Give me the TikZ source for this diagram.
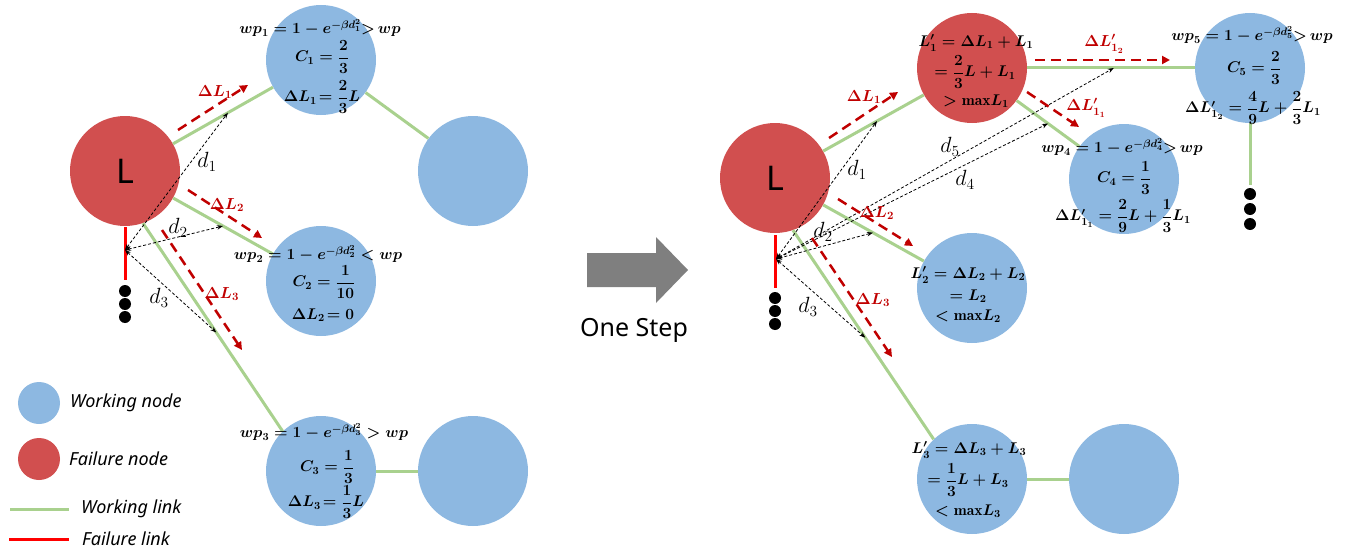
\RequirePackage{fix-cm}
\documentclass[tikz,border=0pt]{standalone}
\usepackage{amsmath}
\usepackage{fontspec}
\setsansfont{Noto Sans}
\usetikzlibrary{arrows.meta,calc}

\definecolor{nodeblue}{HTML}{8DB8E1}
\definecolor{nodered}{HTML}{D14F4F}
\definecolor{linkgreen}{HTML}{A9D18E}
\definecolor{flowred}{HTML}{C00000}
\definecolor{faillink}{HTML}{FF0000}
\definecolor{stepgray}{HTML}{7F7F7F}

\tikzset{
  work/.style={circle, fill=nodeblue, minimum size=110pt, inner sep=0pt},
  fail/.style={circle, fill=nodered, minimum size=110pt, inner sep=0pt,
    font=\sffamily\fontsize{34}{40}\selectfont},
  link/.style={draw=linkgreen, line width=3pt},
  brokenlink/.style={draw=faillink, line width=3pt},
  flow/.style={draw=flowred, line width=2.5pt, dash pattern=on 10pt off 6pt,
    -{Triangle[length=8pt,width=8pt]}},
  dist/.style={draw=black, line width=0.8pt, dash pattern=on 3pt off 2pt,
    {Stealth[length=6pt,width=4.5pt]}-{Stealth[length=6pt,width=4.5pt]}},
  eq/.style={inner sep=0pt, font=\fontsize{15.5}{18}\selectfont\boldmath},
  flowlab/.style={inner sep=0pt, text=flowred, font=\fontsize{16}{18}\selectfont\boldmath},
  dlab/.style={inner sep=0pt, font=\fontsize{22}{26}\selectfont},
  dot/.style={circle, fill=black, minimum size=12pt, inner sep=0pt},
  legendtext/.style={anchor=west, inner sep=0pt,
    font=\sffamily\itshape\fontsize{18}{21}\selectfont},
}

\begin{document}
\begin{tikzpicture}[x=1pt, y=-1pt]
\useasboundingbox (0,0) rectangle (1355,551);

% ---------------- before the step ----------------
\node[fail] (L)   at (125,171) {L};
\node[work] (n1)  at (321,60)  {};
\node[work] (n1r) at (473,171) {};
\node[work] (n2)  at (321,281) {};
\node[work] (n3)  at (321,471) {};
\node[work] (n3r) at (473,471) {};

\draw[link] (L) -- (n1);
\draw[link] (n1) -- (n1r);
\draw[link] (L) -- (n2);
\draw[link] (L.289) -- (n3.134);
\draw[link] (n3) -- (n3r);

% failed link and the chain below it
\coordinate (fa) at (125,227);
\coordinate (fb) at (125,280);
\draw[brokenlink] (fa) -- (fb);
\node[dot] (da1) at (125,291) {};
\node[dot] (da2) at (125,304) {};
\node[dot] (da3) at (125,317) {};

% distances
\coordinate (oa) at (125,250);
\draw[dist] (oa) -- ($(L)!0.525!(n1)$);
\draw[dist] (oa) -- ($(L)!0.5!(n2)$);
\draw[dist] (oa) -- ($(L.289)!0.525!(n3.134)$);
\node[dlab] (ld1) at (207,162) {$d_1$};
\node[dlab] (ld2) at (178,228) {$d_2$};
\node[dlab] (ld3) at (159,298) {$d_3$};

% load transfer
\coordinate (fa1s) at (178,130); \coordinate (fa1e) at (248,85);
\coordinate (fa2s) at (188,190); \coordinate (fa2e) at (262,238);
\coordinate (fa3s) at (162,230); \coordinate (fa3e) at (242,350);
\draw[flow] (fa1s) -- (fa1e);
\draw[flow] (fa2s) -- (fa2e);
\draw[flow] (fa3s) -- (fa3e);
\node[flowlab] (la1) at (215,92)  {$\Delta L_1$};
\node[flowlab] (la2) at (227,205) {$\Delta L_2$};
\node[flowlab] (la3) at (222,294) {$\Delta L_3$};

% node annotations
\node[eq] (n1a) at (320,28) {$wp_1 = 1 - e^{-\beta d_1^2}{>}\, wp$};
\node[eq] (n1b) at (322,57) {$C_1 = \dfrac{2}{3}$};
\node[eq] (n1c) at (322,97) {$\Delta L_1\!= \dfrac{2}{3}L$};
\node[eq] (n2a) at (318,254) {$wp_2 = 1 - e^{-\beta d_2^2} < wp$};
\node[eq] (n2b) at (324,282) {$C_2 = \dfrac{1}{10}$};
\node[eq] (n2c) at (323,315) {$\Delta L_2\!= 0$};
\node[eq] (n3a) at (324,432) {$wp_3 = 1 - e^{-\beta d_3^2} > wp$};
\node[eq] (n3b) at (327,467) {$C_3 = \dfrac{1}{3}$};
\node[eq] (n3c) at (326,502) {$\Delta L_3\!= \dfrac{1}{3}L$};

% ---------------- step arrow ----------------
\fill[stepgray] (587,253) -- (656,253) -- (656,237) -- (688,270) -- (656,303)
  -- (656,287) -- (587,287) -- cycle;
\node[inner sep=0pt, font=\sffamily\fontsize{25}{30}\selectfont] (step) at (634,330) {One Step};

% ---------------- after the step ----------------
\node[fail] (RL)  at (775,178) {L};
\node[fail] (R1)  at (972,68)  {};
\node[work] (n5)  at (1250,68) {};
\node[work] (n4)  at (1124,179) {};
\node[work] (R2)  at (972,288) {};
\node[work] (R3)  at (972,479) {};
\node[work] (R3r) at (1124,479) {};

\draw[link] (RL) -- (R1);
\draw[link] (R1) -- (n5);
\draw[link] (R1) -- (n4);
\draw[link] (RL) -- (R2);
\draw[link] (RL.289) -- (R3.134);
\draw[link] (R3) -- (R3r);
\coordinate (n5end) at (1250,185);
\draw[link] (n5) -- (n5end);
\node[dot] (db1) at (1250,194) {};
\node[dot] (db2) at (1250,209) {};
\node[dot] (db3) at (1250,224) {};

\coordinate (fc) at (775,235);
\coordinate (fd) at (775,288);
\draw[brokenlink] (fc) -- (fd);
\node[dot] (dc1) at (775,298) {};
\node[dot] (dc2) at (775,311) {};
\node[dot] (dc3) at (775,324) {};

% distances
\coordinate (ob) at (776,259);
\draw[dist] (ob) -- ($(RL)!0.518!(R1)$);
\draw[dist] (ob) -- ($(RL)!0.497!(R2)$);
\draw[dist] (ob) -- ($(RL.289)!0.514!(R3.134)$);
\draw[dist] (ob) -- ($(R1)!0.5!(n4)$);
\draw[dist] (ob) -- ($(R1)!0.51!(n5)$);
\node[dlab] (ld1b) at (857,170) {$d_1$};
\node[dlab] (ld2b) at (823,232) {$d_2$};
\node[dlab] (ld3b) at (808,307) {$d_3$};
\node[dlab] (ld4b) at (965,180) {$d_4$};
\node[dlab] (ld5b) at (950,147) {$d_5$};

% load transfer
\coordinate (fb1s) at (829,138);  \coordinate (fb1e) at (898,92);
\coordinate (fb2s) at (838,199);  \coordinate (fb2e) at (913,246);
\coordinate (fb3s) at (812,238);  \coordinate (fb3e) at (892,357);
\coordinate (fb4s) at (1035,60);  \coordinate (fb4e) at (1170,60);
\coordinate (fb5s) at (1027,92);  \coordinate (fb5e) at (1079,127);
\draw[flow] (fb1s) -- (fb1e);
\draw[flow] (fb2s) -- (fb2e);
\draw[flow] (fb3s) -- (fb3e);
\draw[flow] (fb4s) -- (fb4e);
\draw[flow] (fb5s) -- (fb5e);
\node[flowlab] (lb1) at (864,97)  {$\Delta L_1$};
\node[flowlab] (lb2) at (877,213) {$\Delta L_2$};
\node[flowlab] (lb3) at (873,300) {$\Delta L_3$};
\node[flowlab] (lb4) at (1104,44) {$\Delta L'_{1_2}$};
\node[flowlab] (lb5) at (1086,108) {$\Delta L'_{1_1}$};

% node annotations
\node[eq] (R1a) at (976,43)  {$L'_1 = \Delta L_1 + L_1$};
\node[eq] (R1b) at (975,72)  {$= \dfrac{2}{3}L + L_1$};
\node[eq] (R1c) at (976,101) {$> \mathrm{max}L_1$};
\node[eq] (R2a) at (968,275) {$L'_2 = \Delta L_2 + L_2$};
\node[eq] (R2b) at (968,296) {$= L_2$};
\node[eq] (R2c) at (968,316) {$< \mathrm{max}L_2$};
\node[eq] (R3a) at (969,450) {$L'_3 = \Delta L_3 + L_3$};
\node[eq] (R3b) at (968,480) {$= \dfrac{1}{3}L +L_3$};
\node[eq] (R3c) at (968,511) {$< \mathrm{max}L_3$};
\node[eq] (n4a) at (1122,147) {$wp_4 = 1 - e^{-\beta d_4^2}{>}\, wp$};
\node[eq] (n4b) at (1124,178) {$C_4 = \dfrac{1}{3}$};
\node[eq] (n4c) at (1123,216) {$\Delta L'_{1_1} = \dfrac{2}{9}L + \dfrac{1}{3}L_1$};
\node[eq] (n5a) at (1252,35)  {$wp_5 = 1 - e^{-\beta d_5^2}{>}\, wp$};
\node[eq] (n5b) at (1254,68)  {$C_5 = \dfrac{2}{3}$};
\node[eq] (n5c) at (1253,108) {$\Delta L'_{1_2} = \dfrac{4}{9}L + \dfrac{2}{3}L_1$};

% ---------------- legend ----------------
\node[work, minimum size=42pt] (lgw) at (39,403) {};
\node[legendtext] (lgwt) at (70,403) {Working node};
\node[fail, minimum size=42pt] (lgf) at (39,459) {};
\node[legendtext] (lgft) at (69,459) {Failure node};
\coordinate (lgg1) at (10,509); \coordinate (lgg2) at (69,509);
\draw[link] (lgg1) -- (lgg2);
\node[legendtext] (lggt) at (81,509) {Working link};
\coordinate (lgr1) at (9,539); \coordinate (lgr2) at (69,539);
\draw[brokenlink] (lgr1) -- (lgr2);
\node[legendtext] (lgrt) at (82,539) {Failure link};
\end{tikzpicture}
\end{document}
